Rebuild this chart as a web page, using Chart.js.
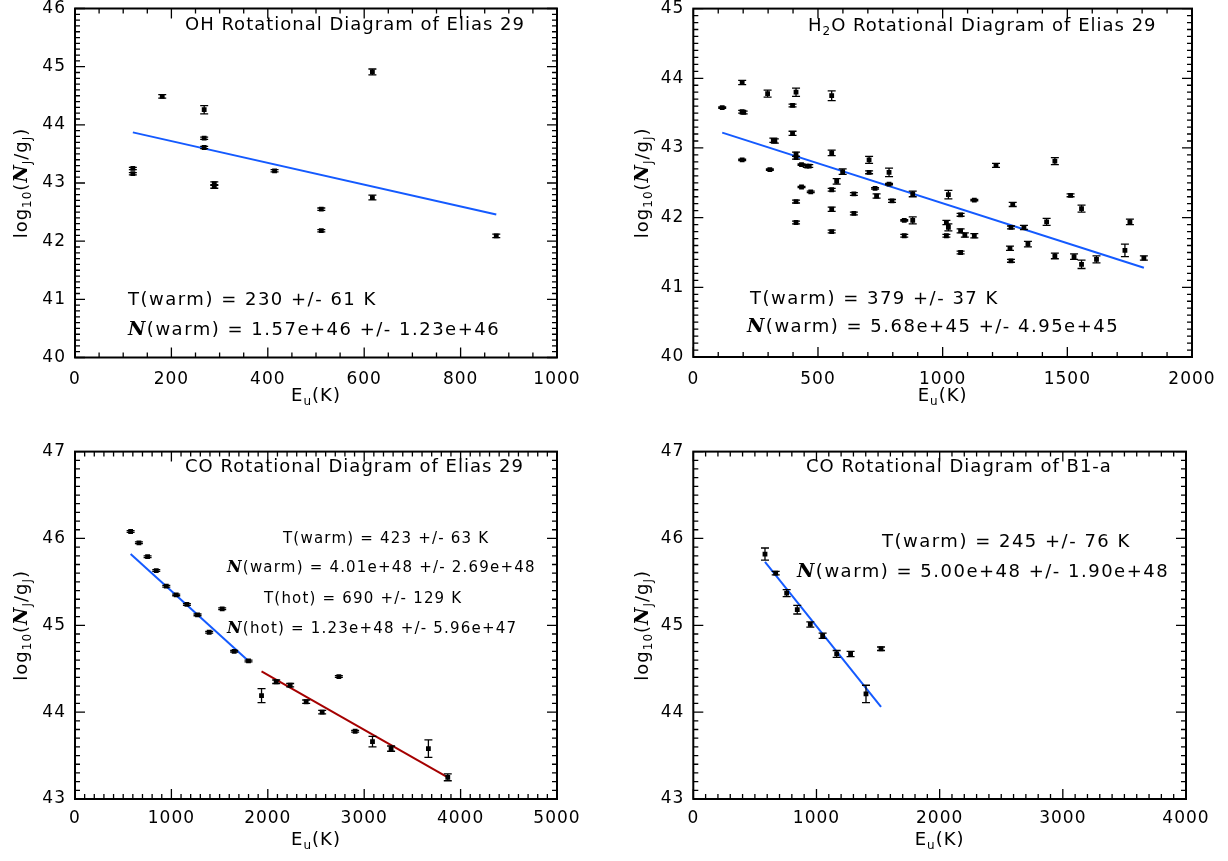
<!DOCTYPE html>
<html>
<head>
<meta charset="utf-8">
<script src="https://cdn.jsdelivr.net/npm/chart.js@4"></script>
<style>
  html, body { margin: 0; padding: 0; background: #fff; }
  .panel { position: absolute; }
</style>
</head>
<body>
<div class="panel" style="left:0;top:0;width:614px;height:430px"><canvas id="ohChart"></canvas></div>
<div class="panel" style="left:614px;top:0;width:614px;height:430px"><canvas id="h2oChart"></canvas></div>
<div class="panel" style="left:0;top:430px;width:614px;height:431px"><canvas id="coChart"></canvas></div>
<div class="panel" style="left:614px;top:430px;width:614px;height:431px"><canvas id="b1Chart"></canvas></div>
<script>
// OH, Elias 29
const ohE    = [120, 120, 181, 268, 268, 268, 289, 289, 414, 511, 511, 617, 617, 874];
const ohLogN = [43.25, 43.16, 44.49, 44.26, 43.77, 43.61, 42.99, 42.94, 43.21, 42.55, 42.18, 44.91, 42.75, 42.09];
const ohErr  = [0.02, 0.02, 0.03, 0.07, 0.02, 0.02, 0.03, 0.03, 0.02, 0.02, 0.02, 0.05, 0.04, 0.03];
const ohFitE = [120, 874];
const ohFitLogN = [43.87, 42.46];

// H2O, Elias 29
const h2oE = [116, 196, 196, 202, 196, 298, 307, 321, 327, 398, 398, 412, 412, 412, 412, 412,
  434, 434, 455, 465, 471, 555, 555, 555, 555, 555, 575, 599, 644, 644, 705, 705, 729, 735,
  785, 785, 797, 846, 846, 880, 880, 1015, 1015, 1023, 1023, 1072, 1072, 1072, 1089, 1127,
  1127, 1214, 1270, 1274, 1274, 1281, 1326, 1342, 1417, 1450, 1450, 1513, 1527, 1557, 1557,
  1617, 1731, 1751, 1807];
const h2oLogN = [43.58, 43.94, 43.52, 43.51, 42.83, 43.78, 42.69, 43.11, 43.10, 43.61, 43.21, 43.80, 42.91, 42.86, 42.23, 41.93,
  42.76, 42.44, 42.74, 42.74, 42.37, 43.75, 42.93, 42.40, 42.12, 41.80, 42.52, 42.66, 42.34, 42.06, 42.83, 42.65, 42.42, 42.31,
  42.65, 42.48, 42.24, 41.96, 41.74, 42.34, 41.96, 41.93, 41.74, 42.33, 41.86, 42.04, 41.81, 41.50, 41.75, 42.25,
  41.74, 42.75, 41.56, 41.86, 41.38, 42.19, 41.86, 41.62, 41.94, 42.81, 41.45, 42.32, 41.44, 42.13, 41.33,
  41.40, 41.53, 41.94, 41.42];
const h2oErr = [0.01, 0.03, 0.02, 0.02, 0.01, 0.05, 0.01, 0.03, 0.03, 0.02, 0.03, 0.06, 0.03, 0.02, 0.02, 0.02,
  0.01, 0.01, 0.02, 0.02, 0.01, 0.07, 0.04, 0.02, 0.03, 0.02, 0.04, 0.04, 0.02, 0.02, 0.05, 0.02, 0.01, 0.03,
  0.06, 0.01, 0.02, 0.01, 0.02, 0.04, 0.05, 0.03, 0.02, 0.06, 0.05, 0.02, 0.03, 0.02, 0.03, 0.01,
  0.03, 0.03, 0.03, 0.02, 0.02, 0.03, 0.03, 0.04, 0.05, 0.05, 0.04, 0.02, 0.04, 0.05, 0.06,
  0.05, 0.09, 0.04, 0.03];
const h2oFitE = [116, 1807];
const h2oFitLogN = [43.22, 41.28];

// CO, Elias 29
const coE = [577, 663, 753, 843, 947, 1050, 1161, 1271, 1392, 1527, 1651, 1800,
  1935, 2087, 2232, 2398, 2564, 2737, 2906, 3086, 3279, 3666, 3867];
const coLogN = [46.08, 45.95, 45.79, 45.63, 45.45, 45.35, 45.24, 45.12, 44.92, 45.19, 44.70, 44.59,
  44.19, 44.35, 44.31, 44.12, 44.00, 44.41, 43.78, 43.66, 43.58, 43.58, 43.25];
const coErr = [0.01, 0.01, 0.01, 0.01, 0.01, 0.01, 0.01, 0.01, 0.01, 0.01, 0.01, 0.01,
  0.08, 0.02, 0.02, 0.02, 0.02, 0.01, 0.01, 0.06, 0.03, 0.10, 0.04];
const coWarmFitE = [577, 1800];
const coWarmFitLogN = [45.82, 44.59];
const coHotFitE = [1935, 3867];
const coHotFitLogN = [44.47, 43.25];

// CO, B1-a
const b1E = [582, 669, 758, 844, 950, 1050, 1164, 1277, 1402, 1524];
const b1LogN = [45.82, 45.60, 45.37, 45.18, 45.01, 44.88, 44.67, 44.67, 44.21, 44.73];
const b1Err = [0.07, 0.02, 0.04, 0.05, 0.03, 0.03, 0.04, 0.03, 0.10, 0.02];
const b1FitE = [582, 1524];
const b1FitLogN = [45.73, 44.06];

const FONT = '"DejaVu Sans", sans-serif';
const BLUE = 'rgb(20, 90, 255)';
const RED = 'rgb(165, 0, 0)';

function pts(xs, ys) {
  return xs.map((x, i) => ({ x: x, y: ys[i] }));
}

// draw a line of text with subscripts; parts = [[text, kind]] kind: '' | 's' (subscript) | 'n' (script N)
function drawRich(ctx, parts, x, y, size, align, spacing) {
  ctx.save();
  ctx.letterSpacing = spacing + 'px';
  ctx.textBaseline = 'middle';
  ctx.textAlign = 'left';
  ctx.fillStyle = '#000';
  const fontOf = k => k === 's' ? `${Math.round(size * 0.65)}px ${FONT}`
    : k === 'n' ? `italic bold ${Math.round(size * 1.05)}px "DejaVu Serif", serif`
    : `${size}px ${FONT}`;
  let total = 0;
  parts.forEach(p => { ctx.font = fontOf(p[1]); total += ctx.measureText(p[0]).width; });
  let cx = align === 'center' ? x - total / 2 : x;
  parts.forEach(p => {
    ctx.font = fontOf(p[1]);
    const dy = p[1] === 's' ? size * 0.32 : 0;
    ctx.fillText(p[0], cx, y + dy);
    cx += ctx.measureText(p[0]).width;
  });
  ctx.restore();
}

const idlPlugin = {
  id: 'idl',
  beforeDraw(chart) {
    chart.ctx.letterSpacing = '1px';
  },
  afterDatasetsDraw(chart) {
    const ctx = chart.ctx;
    const xs = chart.scales.x, ys = chart.scales.y;
    const o = chart.options.plugins.idl;
    // error bars
    chart.data.datasets.forEach(ds => {
      if (!ds.err) return;
      ctx.save();
      ctx.strokeStyle = '#000';
      ctx.lineWidth = 1.3;
      ds.data.forEach((p, i) => {
        const px = xs.getPixelForValue(p.x);
        const y1 = ys.getPixelForValue(p.y - ds.err[i]);
        const y2 = ys.getPixelForValue(p.y + ds.err[i]);
        ctx.beginPath();
        ctx.moveTo(px, y1); ctx.lineTo(px, y2);
        ctx.moveTo(px - 4, y1); ctx.lineTo(px + 4, y1);
        ctx.moveTo(px - 4, y2); ctx.lineTo(px + 4, y2);
        ctx.stroke();
      });
      ctx.restore();
    });
  },
  afterDraw(chart) {
    const ctx = chart.ctx;
    const a = chart.chartArea;
    const xs = chart.scales.x, ys = chart.scales.y;
    const o = chart.options.plugins.idl;
    ctx.save();
    ctx.strokeStyle = '#000';
    // box
    ctx.lineWidth = 2;
    ctx.strokeRect(a.left, a.top, a.right - a.left, a.bottom - a.top);
    // ticks on all sides, pointing inward
    ctx.lineWidth = 1.3;
    ctx.beginPath();
    const nx = Math.round((xs.max - xs.min) / o.xMinor);
    for (let k = 0; k <= nx; k++) {
      const v = xs.min + k * o.xMinor;
      const len = Math.abs(v / o.xMajor - Math.round(v / o.xMajor)) < 1e-6 ? 10 : 5;
      const px = xs.getPixelForValue(v);
      ctx.moveTo(px, a.bottom); ctx.lineTo(px, a.bottom - len);
      ctx.moveTo(px, a.top); ctx.lineTo(px, a.top + len);
    }
    const ny = Math.round((ys.max - ys.min) / o.yMinor);
    for (let k = 0; k <= ny; k++) {
      const v = ys.min + k * o.yMinor;
      const len = Math.abs(v - Math.round(v)) < 1e-6 ? 10 : 5;
      const py = ys.getPixelForValue(v);
      ctx.moveTo(a.left, py); ctx.lineTo(a.left + len, py);
      ctx.moveTo(a.right, py); ctx.lineTo(a.right - len, py);
    }
    ctx.stroke();
    ctx.restore();

    // axis titles
    drawRich(ctx, [['E', ''], ['u', 's'], ['(K)', '']], (a.left + a.right) / 2, o.xTitleY, 18, 'center', 1);
    ctx.save();
    ctx.translate(o.yTitleX, (a.top + a.bottom) / 2);
    ctx.rotate(-Math.PI / 2);
    drawRich(ctx, [['log', ''], ['10', 's'], ['(', ''], ['N', 'n'], ['J', 's'], ['/g', ''], ['J', 's'], [')', '']], 0, 0, 18, 'center', 1);
    ctx.restore();

    // panel title and fit results
    o.notes.forEach(n => drawRich(ctx, n.parts, n.x, n.y, n.size, 'left', n.spacing));
  }
};

function makePanel(id, cfg) {
  const datasets = [{
    type: 'scatter',
    data: pts(cfg.e, cfg.logN),
    err: cfg.err,
    pointStyle: 'rect',
    pointRadius: 3.4,
    backgroundColor: '#000',
    borderColor: '#000',
    borderWidth: 0
  }];
  cfg.fits.forEach(f => datasets.push({
    type: 'line',
    data: pts(f.e, f.logN),
    borderColor: f.color,
    borderWidth: 2,
    pointRadius: 0,
    fill: false
  }));
  const tickFont = { family: FONT, size: 17 };
  return new Chart(document.getElementById(id), {
    type: 'scatter',
    data: { datasets: datasets },
    options: {
      responsive: true,
      maintainAspectRatio: false,
      animation: false,
      events: [],
      layout: { padding: { left: 0, top: cfg.top, right: cfg.right, bottom: 0 } },
      plugins: {
        legend: { display: false },
        tooltip: { enabled: false },
        idl: {
          xMajor: cfg.xStep, xMinor: cfg.xMinor, yMinor: 0.1,
          xTitleY: cfg.xTitleY, yTitleX: cfg.yTitleX,
          notes: cfg.notes
        }
      },
      scales: {
        x: {
          type: 'linear',
          min: 0, max: cfg.xMax,
          grid: { display: false, drawTicks: false },
          border: { display: false },
          ticks: { stepSize: cfg.xStep, color: '#000', font: tickFont, padding: cfg.xPad, maxRotation: 0, callback: v => String(v) },
          afterFit: s => { s.height = cfg.xAxisH; s.paddingLeft = 0; s.paddingRight = 0; }
        },
        y: {
          type: 'linear',
          min: cfg.yMin, max: cfg.yMax,
          grid: { display: false, drawTicks: false },
          border: { display: false },
          ticks: { stepSize: 1, color: '#000', font: tickFont, padding: 9, callback: v => String(v) },
          afterFit: s => { s.width = cfg.left; s.paddingTop = 0; s.paddingBottom = 0; }
        }
      }
    },
    plugins: [idlPlugin]
  });
}

Chart.register(idlPlugin);
Chart.unregister(idlPlugin);

makePanel('ohChart', {
  e: ohE, logN: ohLogN, err: ohErr,
  fits: [{ e: ohFitE, logN: ohFitLogN, color: BLUE }],
  xMax: 1000, xStep: 200, xMinor: 50, yMin: 40, yMax: 46,
  left: 75, right: 57, top: 8.5, xAxisH: 72.5, xPad: 12,
  xTitleY: 396, yTitleX: 22,
  notes: [
    { parts: [['OH Rotational Diagram of Elias 29', '']], x: 185, y: 25, size: 18, spacing: 1 },
    { parts: [['T(warm) = 230 +/- 61 K', '']], x: 128, y: 300, size: 18, spacing: 1.5 },
    { parts: [['N', 'n'], ['(warm) = 1.57e+46 +/- 1.23e+46', '']], x: 128, y: 330, size: 18, spacing: 1.5 }
  ]
});

makePanel('h2oChart', {
  e: h2oE, logN: h2oLogN, err: h2oErr,
  fits: [{ e: h2oFitE, logN: h2oFitLogN, color: BLUE }],
  xMax: 2000, xStep: 500, xMinor: 100, yMin: 40, yMax: 45,
  left: 79.3, right: 36, top: 8.6, xAxisH: 73, xPad: 12,
  xTitleY: 396, yTitleX: 29,
  notes: [
    { parts: [['H', ''], ['2', 's'], ['O Rotational Diagram of Elias 29', '']], x: 194, y: 26, size: 18, spacing: 1 },
    { parts: [['T(warm) = 379 +/- 37 K', '']], x: 136, y: 299, size: 18, spacing: 1.5 },
    { parts: [['N', 'n'], ['(warm) = 5.68e+45 +/- 4.95e+45', '']], x: 133, y: 327, size: 18, spacing: 1.5 }
  ]
});

makePanel('coChart', {
  e: coE, logN: coLogN, err: coErr,
  fits: [{ e: coWarmFitE, logN: coWarmFitLogN, color: BLUE }, { e: coHotFitE, logN: coHotFitLogN, color: RED }],
  xMax: 5000, xStep: 1000, xMinor: 100, yMin: 43, yMax: 47,
  left: 75, right: 57, top: 21.6, xAxisH: 62, xPad: 9,
  xTitleY: 410, yTitleX: 22,
  notes: [
    { parts: [['CO Rotational Diagram of Elias 29', '']], x: 185, y: 37, size: 18, spacing: 1 },
    { parts: [['T(warm) = 423 +/- 63 K', '']], x: 283, y: 109, size: 15, spacing: 1.2 },
    { parts: [['N', 'n'], ['(warm) = 4.01e+48 +/- 2.69e+48', '']], x: 227, y: 138, size: 15, spacing: 1.2 },
    { parts: [['T(hot) = 690 +/- 129 K', '']], x: 264, y: 169, size: 15, spacing: 1.2 },
    { parts: [['N', 'n'], ['(hot) = 1.23e+48 +/- 5.96e+47', '']], x: 227, y: 199, size: 15, spacing: 1.2 }
  ]
});

makePanel('b1Chart', {
  e: b1E, logN: b1LogN, err: b1Err,
  fits: [{ e: b1FitE, logN: b1FitLogN, color: BLUE }],
  xMax: 4000, xStep: 1000, xMinor: 100, yMin: 43, yMax: 47,
  left: 79.3, right: 42, top: 21.6, xAxisH: 62, xPad: 9,
  xTitleY: 410, yTitleX: 29,
  notes: [
    { parts: [['CO Rotational Diagram of B1-a', '']], x: 192, y: 37, size: 18, spacing: 1 },
    { parts: [['T(warm) = 245 +/- 76 K', '']], x: 268, y: 112, size: 18, spacing: 1.5 },
    { parts: [['N', 'n'], ['(warm) = 5.00e+48 +/- 1.90e+48', '']], x: 183, y: 142, size: 18, spacing: 1.5 }
  ]
});
</script>
</body>
</html>
